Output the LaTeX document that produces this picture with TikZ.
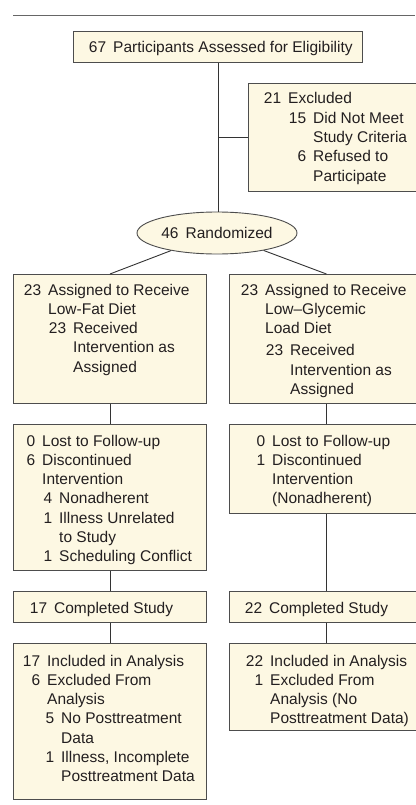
\documentclass[tikz,border=0pt]{standalone}
\usepackage{fontspec}
\setmainfont{Liberation Sans}
\usetikzlibrary{shapes.geometric}
\definecolor{boxfill}{HTML}{FDF8E3}
\definecolor{boxdraw}{HTML}{4D4D4D}
\definecolor{txtcol}{HTML}{231F20}
\newcommand{\Ln}[3]{\makebox[#1pt][r]{#2\hspace{7pt}}#3}
\newcommand{\fsz}{\fontsize{15.5}{19.3}\selectfont}
\begin{document}
\begin{tikzpicture}[x=1pt,y=-1pt,
  box/.style={draw=boxdraw, fill=boxfill, line width=0.9pt, inner sep=0pt, anchor=north west, rectangle},
  txt/.style={inner sep=0pt, anchor=base west, text=txtcol, font=\fsz},
  conn/.style={draw=black!80, line width=0.9pt}]
\useasboundingbox (0,0) rectangle (415,805);
\draw[line width=1pt, draw=black!60] (13,15.3) -- (415,15.3);

% boxes
\node[box, minimum width=289pt, minimum height=31pt] (top) at (73,31) {};
\node[txt] (topt) at (73,53) {\Ln{40}{67}{Participants Assessed for Eligibility}};

\node[box, minimum width=175pt, minimum height=108pt] (excl) at (248,83) {};
\node[txt] (exclt) at (248,104) {\begin{tabular}[t]{@{}l@{}}
\Ln{40}{21}{Excluded}\\
\Ln{65}{15}{Did Not Meet}\\
\Ln{65}{}{Study Criteria}\\
\Ln{65}{6}{Refused to}\\
\Ln{65}{}{Participate}
\end{tabular}};

\node[ellipse, draw=boxdraw, fill=boxfill, line width=0.9pt, minimum width=160pt,
  minimum height=42pt, inner sep=0pt, text=txtcol, font=\fsz] (rand) at (217,233) {46\hspace{7pt}Randomized};

\node[box, minimum width=193pt, minimum height=129pt] (b1L) at (13,274) {};
\node[txt] (b1Lt) at (13,295) {\begin{tabular}[t]{@{}l@{}}
\Ln{35}{23}{Assigned to Receive}\\
\Ln{35}{}{Low-Fat Diet}\\
\Ln{60}{23}{Received}\\
\Ln{60}{}{Intervention as}\\
\Ln{60}{}{Assigned}
\end{tabular}};

\node[box, minimum width=194pt, minimum height=129pt] (b1R) at (229,274) {};
\node[txt] (b1Rt) at (229,295) {\begin{tabular}[t]{@{}l@{}}
\Ln{36}{23}{Assigned to Receive}\\
\Ln{36}{}{Low–Glycemic}\\
\Ln{36}{}{Load Diet}\\[3pt]
\Ln{61}{23}{Received}\\
\Ln{61}{}{Intervention as}\\
\Ln{61}{}{Assigned}
\end{tabular}};

\node[box, minimum width=193pt, minimum height=146pt] (b2L) at (13,424) {};
\node[txt] (b2Lt) at (13,446) {\begin{tabular}[t]{@{}l@{}}
\Ln{29}{0}{Lost to Follow-up}\\
\Ln{29}{6}{Discontinued}\\
\Ln{29}{}{Intervention}\\
\Ln{46}{4}{Nonadherent}\\
\Ln{46}{1}{Illness Unrelated}\\
\Ln{46}{}{to Study}\\
\Ln{46}{1}{Scheduling Conflict}
\end{tabular}};

\node[box, minimum width=194pt, minimum height=89pt] (b2R) at (229,424) {};
\node[txt] (b2Rt) at (229,446) {\begin{tabular}[t]{@{}l@{}}
\Ln{43}{0}{Lost to Follow-up}\\
\Ln{43}{1}{Discontinued}\\
\Ln{43}{}{Intervention}\\
\Ln{43}{}{(Nonadherent)}
\end{tabular}};

\node[box, minimum width=193pt, minimum height=31pt] (b3L) at (13,591) {};
\node[txt] (b3Lt) at (13,613) {\Ln{41}{17}{Completed Study}};

\node[box, minimum width=194pt, minimum height=31pt] (b3R) at (229,591) {};
\node[txt] (b3Rt) at (229,613) {\Ln{40}{22}{Completed Study}};

\node[box, minimum width=193pt, minimum height=156pt] (b4L) at (13,643) {};
\node[txt] (b4Lt) at (13,666) {\begin{tabular}[t]{@{}l@{}}
\Ln{34}{17}{Included in Analysis}\\
\Ln{34}{6}{Excluded From}\\
\Ln{34}{}{Analysis}\\
\Ln{48}{5}{No Posttreatment}\\
\Ln{48}{}{Data}\\
\Ln{48}{1}{Illness, Incomplete}\\
\Ln{48}{}{Posttreatment Data}
\end{tabular}};

\node[box, minimum width=194pt, minimum height=87pt] (b4R) at (229,643) {};
\node[txt] (b4Rt) at (229,666) {\begin{tabular}[t]{@{}l@{}}
\Ln{41}{22}{Included in Analysis}\\
\Ln{41}{1}{Excluded From}\\
\Ln{41}{}{Analysis (No}\\
\Ln{41}{}{Posttreatment Data)}
\end{tabular}};

% connectors
\draw[conn] (top.south) -- (top.south |- rand.north);
\draw[conn] (top.south |- excl.west) -- (excl.west);
\draw[conn] (rand) -- (b1L.north);
\draw[conn] (rand) -- (b1R.north);
\draw[conn] (b1L.south) -- (b2L.north);
\draw[conn] (b1R.south) -- (b2R.north);
\draw[conn] (b2L.south) -- (b3L.north);
\draw[conn] (b2R.south) -- (b3R.north);
\draw[conn] (b3L.south) -- (b4L.north);
\draw[conn] (b3R.south) -- (b4R.north);
\end{tikzpicture}
\end{document}
